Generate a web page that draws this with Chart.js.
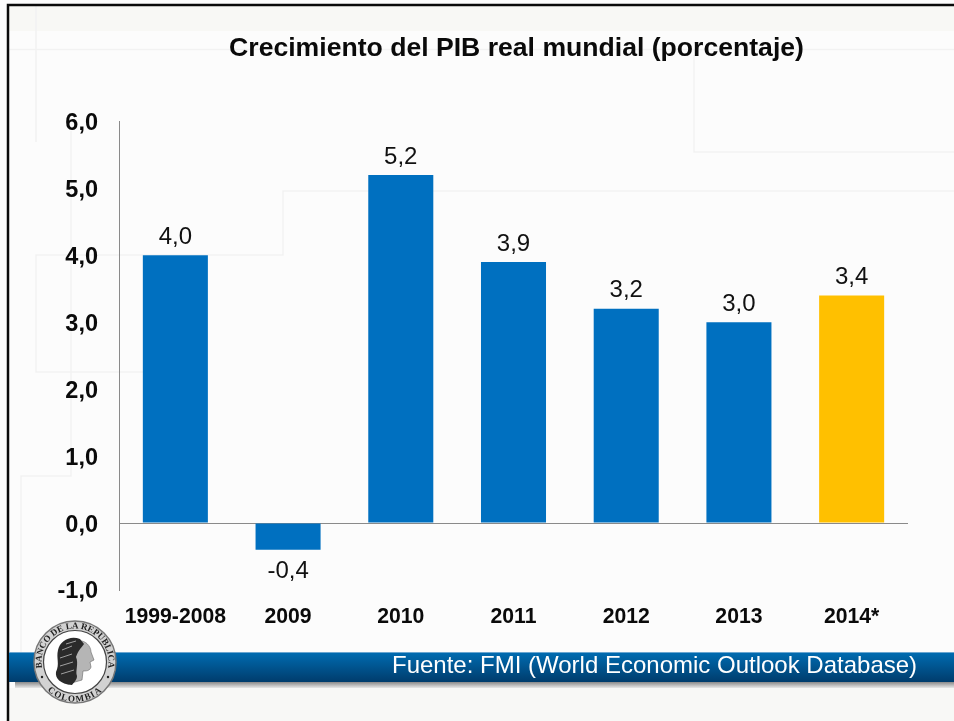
<!DOCTYPE html>
<html lang="es">
<head>
<meta charset="utf-8">
<title>Crecimiento del PIB real mundial</title>
<script src="https://cdn.jsdelivr.net/npm/chart.js@4"></script>
<style>
html,body{margin:0;padding:0;background:#fff;overflow:hidden}
#stage{position:relative;width:954px;height:721px}
#bg,#fg,canvas{position:absolute;left:0;top:0}
#chartBox{position:absolute;left:0;top:0;width:954px;height:721px}
</style>
</head>
<body>
<div id="stage">
<svg id="bg" width="954" height="721" viewBox="0 0 954 721">
  <defs>
    <linearGradient id="band" x1="0" y1="0" x2="0" y2="1">
      <stop offset="0" stop-color="#006bb0"/>
      <stop offset="1" stop-color="#003c6c"/>
    </linearGradient>
    <linearGradient id="shadow" x1="0" y1="0" x2="0" y2="1">
      <stop offset="0" stop-color="#8a8a8a"/>
      <stop offset="1" stop-color="#e8e8e8"/>
    </linearGradient>
  </defs>
  <rect width="954" height="721" fill="#fcfcfc"/>
  <rect x="8" y="6" width="946" height="25" fill="#f8f8f5"/>
  <rect x="8" y="688" width="946" height="33" fill="#f8f8f6"/>
  <g fill="none" stroke="#f2f2f2" stroke-width="1.5">
    <path d="M9 49.5H954"/>
    <path d="M36 6V142"/>
    <path d="M71 131V476H21V652"/>
    <path d="M954 191H283V255H36V372H143"/>
    <path d="M694 55V152H954"/>
  </g>
  <path d="M8 721V5H954" fill="none" stroke="#0a0a0a" stroke-width="2.5"/>
  <rect x="15" y="682" width="939" height="6" fill="url(#shadow)"/>
  <rect x="9" y="652" width="945" height="1.5" fill="#6aa6d0"/>
  <rect x="9" y="653" width="945" height="29" fill="url(#band)"/>
</svg>
<div id="chartBox"><canvas id="chart" width="954" height="721"></canvas></div>
<svg id="fg" width="954" height="721" viewBox="0 0 954 721">
  <text x="392" y="672.5" font-family="Liberation Sans, Arial, sans-serif" font-size="24" fill="#ffffff">Fuente: FMI (World Economic Outlook Database)</text>
  <g>
    <circle cx="75" cy="662" r="41" fill="#d2d2d2" stroke="#777" stroke-width="1.5"/>
    <circle cx="75" cy="662" r="31.5" fill="#ffffff" stroke="#444" stroke-width="1.2"/>
    <path id="ringTop" d="M46 678.75A33.5 33.5 0 1 1 104 678.75" fill="none"/>
    <path id="ringBot" d="M42.6 684.7A39.5 39.5 0 0 0 107.4 684.7" fill="none"/>
    <text font-family="Liberation Serif, serif" font-weight="bold" font-size="9" fill="#222"><textPath href="#ringTop" startOffset="50%" text-anchor="middle">BANCO DE LA REPUBLICA</textPath></text>
    <text font-family="Liberation Serif, serif" font-weight="bold" font-size="9" fill="#222" letter-spacing="1.2"><textPath href="#ringBot" startOffset="50%" text-anchor="middle">COLOMBIA</textPath></text>
    <circle cx="42" cy="677" r="1.2" fill="#222"/>
    <circle cx="108" cy="677" r="1.2" fill="#222"/>
    <path d="M79 641C85 640 91 646 91 652L94 660L90 662L91 667C90 671 86 671 83 671L82 680L68 684L74 668L74 650Z" fill="#b5b5b5" stroke="#666" stroke-width=".6"/>
    <path d="M80 639C70 635 60 641 58 650C56 658 60 664 56 672C55 678 60 684 72 685C74 682 77 680 77 676C75 671 79 664 76 657C78 651 81 648 84 644Z" fill="#2a2a2a"/>
    <path d="M62 650L72 646M60 658L72 654M60 666L73 662M61 674L74 670M66 644L76 641" stroke="#a0a0a0" stroke-width="1" fill="none"/>
  </g>
</svg>
</div>
<script>
const categories = ['1999-2008','2009','2010','2011','2012','2013','2014*'];
const growthValues = [4.0,-0.4,5.2,3.9,3.2,3.0,3.4];
const barColors = ['#0070C0','#0070C0','#0070C0','#0070C0','#0070C0','#0070C0','#FFC000'];
const chartTitle = 'Crecimiento del PIB real mundial (porcentaje)';
const fmt = v => v.toFixed(1).replace('.',',');
const FONT = '"Liberation Sans", Arial, sans-serif';

const valueLabels = {
  id:'valueLabels',
  afterDatasetsDraw(chart){
    const {ctx} = chart;
    const meta = chart.getDatasetMeta(0);
    ctx.save();
    ctx.font = '24px '+FONT;
    ctx.fillStyle = '#111';
    ctx.textAlign = 'center';
    ctx.textBaseline = 'middle';
    meta.data.forEach((bar,i)=>{
      const v = growthValues[i];
      ctx.fillText(fmt(v), bar.x, v>=0 ? bar.y-18 : bar.y+22);
    });
    ctx.restore();
  }
};
const shiftTitle = {
  id:'shiftTitle',
  afterLayout(chart){
    if(chart.titleBlock){chart.titleBlock.left+=3;chart.titleBlock.right+=3;}
  }
};

new Chart(document.getElementById('chart'),{
  type:'bar',
  data:{labels:categories,datasets:[{data:growthValues,backgroundColor:barColors,borderWidth:0,barPercentage:0.577,categoryPercentage:1}]},
  plugins:[valueLabels,shiftTitle],
  options:{
    responsive:false,
    animation:false,
    layout:{padding:{left:0,right:46,top:0,bottom:0}},
    plugins:{
      legend:{display:false},
      tooltip:{enabled:false},
      title:{display:true,text:chartTitle,fullSize:false,color:'#0a0a0a',
        font:{family:FONT,size:26.6,weight:'bold',lineHeight:1.2},
        padding:{top:33,bottom:56.4}}
    },
    scales:{
      x:{
        grid:{display:false,drawTicks:false},
        border:{display:false},
        ticks:{color:'#0a0a0a',font:{family:FONT,size:21.2,weight:'bold'},padding:14,maxRotation:0,autoSkip:false},
        afterFit(s){s.height=131;}
      },
      y:{
        min:-1,max:6,
        grid:{drawTicks:false,lineWidth:1,color:c=>c.tick.value===0?'#8a8a8a':'transparent'},
        border:{display:true,color:'#8a8a8a',width:1},
        ticks:{stepSize:1,color:'#0a0a0a',font:{family:FONT,size:23.5,weight:'bold'},padding:21,labelOffset:2,callback:v=>fmt(v)},
        afterFit(s){s.width=119;}
      }
    }
  }
});
</script>
</body>
</html>
